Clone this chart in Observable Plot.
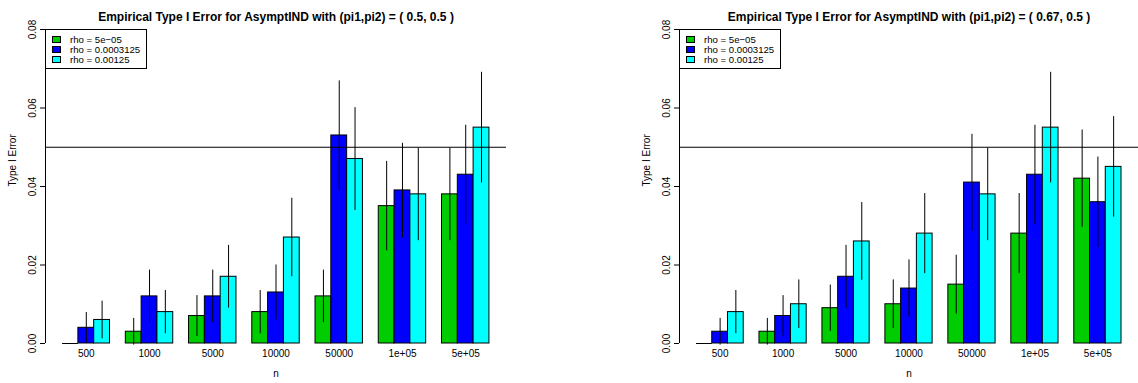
<!DOCTYPE html>
<html>
<head>
<meta charset="utf-8">
<script src="https://cdn.jsdelivr.net/npm/d3@7"></script>
<script src="https://cdn.jsdelivr.net/npm/@observablehq/plot@0.6"></script>
<style>
  body { margin: 0; background: #fff; }
  #wrap { display: flex; width: 1138px; height: 383px; overflow: hidden; }
  .panel { position: relative; width: 569px; height: 383px; flex: none; }
  .legend {
    position: absolute; box-sizing: border-box; border: 1px solid #000; background: #fff;
    font-family: "Liberation Sans", Arial, Helvetica, sans-serif; font-size: 9.6px; color: #000;
    padding-top: 5px;
  }
  .legend .row { height: 9.8px; line-height: 9.8px; display: flex; align-items: center; white-space: nowrap; }
  .legend .sw { width: 7px; height: 5px; border: 1px solid #000; margin-left: 6px; margin-right: 9px; flex: none; }
</style>
</head>
<body>
<div id="wrap"></div>
<script>
// ---------- data ----------
const nLabels = ["500", "1000", "5000", "10000", "50000", "1e+05", "5e+05"];
const rhoLabels = ["rho = 5e\u221205", "rho = 0.0003125", "rho = 0.00125"];
const rhoColors = ["#00CD00", "#0000FF", "#00FFFF"];
const panelTitles = [
  "Empirical Type I Error for AsymptIND with (pi1,pi2) = ( 0.5, 0.5 )",
  "Empirical Type I Error for AsymptIND with (pi1,pi2) = ( 0.67, 0.5 )"
];
const yTicks = [0, 0.02, 0.04, 0.06, 0.08];
const alphaLevel = 0.05;

// panel 1: (pi1,pi2) = (0.5, 0.5)
const p1Rho1 = [0, 0.003, 0.007, 0.008, 0.012, 0.035, 0.038];
const p1Rho2 = [0.004, 0.012, 0.012, 0.013, 0.053, 0.039, 0.043];
const p1Rho3 = [0.006, 0.008, 0.017, 0.027, 0.047, 0.038, 0.055];
const p1Rho1Lo = [0, -0.0004, 0.0018, 0.0025, 0.0053, 0.0236, 0.0262];
const p1Rho1Hi = [0, 0.0064, 0.0122, 0.0135, 0.0187, 0.0464, 0.0498];
const p1Rho2Lo = [0.0001, 0.0053, 0.0053, 0.0060, 0.0391, 0.0270, 0.0304];
const p1Rho2Hi = [0.0079, 0.0187, 0.0187, 0.0200, 0.0669, 0.0510, 0.0556];
const p1Rho3Lo = [0.0012, 0.0025, 0.0090, 0.0170, 0.0339, 0.0262, 0.0409];
const p1Rho3Hi = [0.0108, 0.0135, 0.0250, 0.0370, 0.0601, 0.0498, 0.0691];

// panel 2: (pi1,pi2) = (0.67, 0.5)
const p2Rho1 = [0, 0.003, 0.009, 0.010, 0.015, 0.028, 0.042];
const p2Rho2 = [0.003, 0.007, 0.017, 0.014, 0.041, 0.043, 0.036];
const p2Rho3 = [0.008, 0.010, 0.026, 0.028, 0.038, 0.055, 0.045];
const p2Rho1Lo = [0, -0.0004, 0.0031, 0.0038, 0.0075, 0.0178, 0.0296];
const p2Rho1Hi = [0, 0.0064, 0.0149, 0.0162, 0.0225, 0.0382, 0.0544];
const p2Rho2Lo = [-0.0004, 0.0018, 0.0090, 0.0067, 0.0287, 0.0304, 0.0245];
const p2Rho2Hi = [0.0064, 0.0122, 0.0250, 0.0213, 0.0533, 0.0556, 0.0475];
const p2Rho3Lo = [0.0025, 0.0038, 0.0161, 0.0178, 0.0262, 0.0409, 0.0322];
const p2Rho3Hi = [0.0135, 0.0162, 0.0359, 0.0382, 0.0498, 0.0691, 0.0578];

// ---------- layout (R barplot style: beside=TRUE, space=c(0,1)) ----------
const groupStep = rhoLabels.length + 1;
const totalW = nLabels.length * groupStep;
const xDomain = [1 - 0.04 * (totalW - 1), totalW + 0.04 * (totalW - 1)];

function buildRows(vals, los, his) {
  const rows = [];
  nLabels.forEach((n, i) => {
    rhoLabels.forEach((rho, j) => {
      const x1 = i * groupStep + j + 1;
      rows.push({n, rho, x1, x2: x1 + 1, xc: x1 + 0.5, value: vals[j][i], lo: los[j][i], hi: his[j][i]});
    });
  });
  return rows;
}
const groups = nLabels.map((label, i) => ({label, xc: i * groupStep + 1 + rhoLabels.length / 2}));

const font = '"Liberation Sans", Arial, Helvetica, sans-serif';

function makePlot(rows, title, mLeft, mRight) {
  return Plot.plot({
    width: 569, height: 383,
    marginLeft: mLeft, marginRight: mRight, marginTop: 29, marginBottom: 40,
    x: {domain: xDomain, axis: null},
    y: {domain: [yTicks[0], yTicks[yTicks.length - 1]], axis: null},
    color: {domain: rhoLabels, range: rhoColors},
    style: {fontFamily: font, fontSize: "10px", background: "#fff", color: "#000", overflow: "visible"},
    marks: [
      Plot.rectY(rows, {x1: "x1", x2: "x2", y1: 0, y2: "value", fill: "rho", stroke: "#000", strokeWidth: 1}),
      Plot.ruleY(rows.filter(d => d.value === 0), {x1: "x1", x2: "x2", y: "value", stroke: "#000"}),
      Plot.ruleY([alphaLevel], {stroke: "#000", strokeWidth: 1}),
      Plot.ruleX(rows.filter(d => d.hi > d.lo), {x: "xc", y1: "lo", y2: "hi", stroke: "#000", strokeWidth: 1}),
      Plot.ruleX([xDomain[0]], {y1: yTicks[0], y2: yTicks[yTicks.length - 1], stroke: "#000"}),
      Plot.axisY({ticks: yTicks, tickSize: 5, tickRotate: -90, tickPadding: 5, tickFormat: d3.format(".2f"), fontSize: 10}),
      Plot.text(groups, {x: "xc", text: "label", frameAnchor: "bottom", dy: 13, fontSize: 10}),
      Plot.text(["n"], {text: d => d, frameAnchor: "bottom", dy: 33, fontSize: 10}),
      Plot.text(["Type I Error"], {text: d => d, frameAnchor: "left", dx: -33, rotate: -90, fontSize: 10}),
      Plot.text([title], {text: d => d, frameAnchor: "top", dy: -17, fontWeight: "bold", fontSize: 12})
    ]
  });
}

function makeLegend(left) {
  const lg = document.createElement("div");
  lg.className = "legend";
  lg.style.left = left + "px";
  lg.style.top = "29px";
  lg.style.width = "102px";
  lg.style.height = "40px";
  rhoLabels.forEach((label, j) => {
    const row = document.createElement("div");
    row.className = "row";
    const sw = document.createElement("span");
    sw.className = "sw";
    sw.style.background = rhoColors[j];
    const tx = document.createElement("span");
    tx.textContent = label;
    row.appendChild(sw);
    row.appendChild(tx);
    lg.appendChild(row);
  });
  return lg;
}

const wrap = document.getElementById("wrap");
const panels = [
  {rows: buildRows([p1Rho1, p1Rho2, p1Rho3], [p1Rho1Lo, p1Rho2Lo, p1Rho3Lo], [p1Rho1Hi, p1Rho2Hi, p1Rho3Hi]), title: panelTitles[0], ml: 45, mr: 63},
  {rows: buildRows([p2Rho1, p2Rho2, p2Rho3], [p2Rho1Lo, p2Rho2Lo, p2Rho3Lo], [p2Rho1Hi, p2Rho2Hi, p2Rho3Hi]), title: panelTitles[1], ml: 110, mr: 0}
];
panels.forEach(p => {
  const div = document.createElement("div");
  div.className = "panel";
  div.appendChild(makePlot(p.rows, p.title, p.ml, p.mr));
  div.appendChild(makeLegend(p.ml));
  wrap.appendChild(div);
});
</script>
</body>
</html>
